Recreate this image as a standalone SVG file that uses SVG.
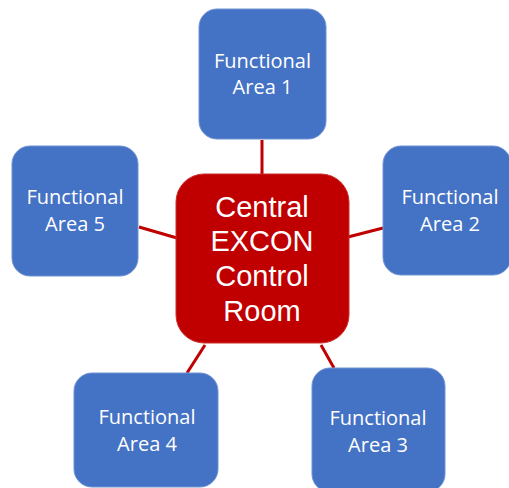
<svg xmlns="http://www.w3.org/2000/svg" width="509" height="488" viewBox="0 0 509 488">
<style>
.area{fill:#4472C4;stroke:#6F93D3;stroke-width:1}
.central{fill:#C00000;stroke:#C9302C;stroke-width:1}
.t{font-family:"Open Sans","Liberation Sans",sans-serif;fill:#fff;text-anchor:middle;font-size:20px}
.tc{font-family:"Liberation Sans","Open Sans",sans-serif;fill:#fff;text-anchor:middle;font-size:29px}
.conn line{stroke:#C00000;stroke-width:3}
</style>
<rect width="509" height="488" fill="#fff"/>
<g id="connectors" class="conn">
<line x1="262" y1="140" x2="262" y2="175"/>
<line x1="139" y1="227" x2="177" y2="238"/>
<line x1="348" y1="237" x2="383" y2="228"/>
<line x1="205" y1="345" x2="187" y2="373"/>
<line x1="321" y1="345" x2="334" y2="368"/>
</g>
<g id="central">
<rect class="central" x="176" y="174" width="173" height="169" rx="28"/>
<text class="tc" x="262" y="217">Central</text>
<text class="tc" x="262" y="251">EXCON</text>
<text class="tc" x="262" y="286">Control</text>
<text class="tc" x="262" y="321">Room</text>
</g>
<g id="area1">
<rect class="area" x="199" y="9" width="127" height="130" rx="18"/>
<text class="t" x="262.5" y="68">Functional</text>
<text class="t" x="262.5" y="94">Area 1</text>
</g>
<g id="area2">
<rect class="area" x="383" y="146" width="128" height="129" rx="18"/>
<text class="t" x="450" y="204">Functional</text>
<text class="t" x="450" y="231">Area 2</text>
</g>
<g id="area3">
<rect class="area" x="312" y="368" width="133" height="124" rx="18"/>
<text class="t" x="378" y="425">Functional</text>
<text class="t" x="378" y="452">Area 3</text>
</g>
<g id="area4">
<rect class="area" x="74" y="373" width="144" height="114" rx="18"/>
<text class="t" x="147" y="424">Functional</text>
<text class="t" x="147" y="451">Area 4</text>
</g>
<g id="area5">
<rect class="area" x="12" y="146" width="126" height="130" rx="18"/>
<text class="t" x="75" y="204">Functional</text>
<text class="t" x="75" y="231">Area 5</text>
</g>
</svg>
